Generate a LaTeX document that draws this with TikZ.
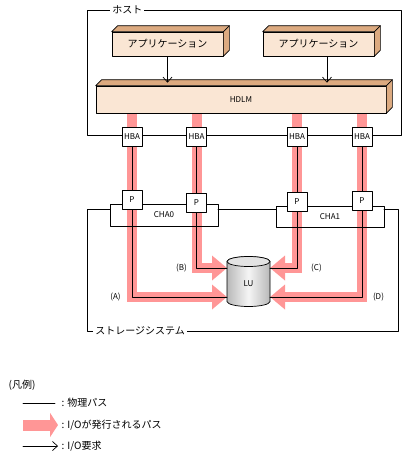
\documentclass[tikz,border=0pt]{standalone}
\usepackage{fontspec}
\setmainfont{Noto Sans CJK JP}
\usetikzlibrary{arrows.meta,backgrounds}
\definecolor{iopink}{RGB}{255,150,150}
\definecolor{boxface}{RGB}{250,230,212}
\definecolor{boxside}{RGB}{220,170,128}
\begin{document}
\begin{tikzpicture}[x=1pt,y=1pt,line cap=round,line join=round,>={Straight Barb[length=5pt,width=9pt]},line width=0.7pt,
	every node/.style={font=\fontsize{10}{12}\selectfont},
	small/.style={font=\fontsize{8}{10}\selectfont},
	box3d/.style={draw,fill=boxface,inner sep=0pt},
	port/.style={draw,fill=white,inner sep=0pt,minimum width=20pt,minimum height=19pt,small},
	cha/.style={draw,inner sep=0pt,minimum width=108pt,minimum height=22pt,small},
	frametitle/.style={fill=white,inner sep=2pt,anchor=west},
	iopath/.style={draw=iopink,line width=10pt,line cap=butt,line join=miter,-{Triangle[length=15pt,width=24pt]}}]
\useasboundingbox (0,0) rectangle (404,-456);
% host
\draw (87,-10) rectangle (401,-135);
\node[frametitle] (host) at (110,-10) {ホスト};
\node[box3d,minimum width=111pt,minimum height=24pt] (app1) at (167.5,-44) {アプリケーション};
\node[box3d,minimum width=111pt,minimum height=24pt] (app2) at (318.5,-44) {アプリケーション};
\node[box3d,minimum width=290pt,minimum height=27pt,small] (hdlm) at (241,-99.5) {HDLM};
\foreach \b in {app1,app2,hdlm}{
	\filldraw[fill=boxside] (\b.north west) -- ++(6,6) -- ([shift={(6,6)}]\b.north east) -- ([shift={(6,6)}]\b.south east) -- (\b.south east) -- (\b.north east) -- cycle;
	\draw (\b.north east) -- ++(6,6);
}
\coordinate (hdlmtop) at ([yshift=3pt]hdlm.north);
\coordinate (req2) at ([xshift=8.5pt]app2.south);
\draw[->] (app1) -- (app1 |- hdlmtop);
\draw[->] (req2) -- (req2 |- hdlmtop);
\foreach \n/\x in {A/132,B/196.5,C/297,D/362}
	\node[port] (hba\n) at (\x,-136.5) {HBA};
% storage
\draw (110,-209) -- (87,-209) -- (87,-331) -- (398,-331) -- (398,-209) -- (384,-209);
\draw (218,-209) -- (276,-209);
\node[frametitle] (storage) at (93,-331) {ストレージシステム};
\node[cha] (cha0) at (164,-215) {CHA0};
\node[cha,minimum height=21pt] (cha1) at (330,-216.5) {CHA1};
\foreach \n/\x/\y in {A/132/200,B/196.5/203,C/297/202,D/362/201}
	\node[port] (p\n) at (\x,-\y) {P};
% LU
\shadedraw[left color=gray!55,right color=gray!55,middle color=gray!8] (227,-261.5) -- (227,-301.5) arc (180:360:21.5 and 5) -- (270,-261.5) arc (0:180:21.5 and 5) -- cycle;
\filldraw[fill=gray!22] (248.5,-261.5) ellipse (21.5 and 5);
\node[small,minimum width=43pt,minimum height=40pt] (lu) at (248.5,-284) {LU};
\coordinate (inA) at (227,-297);
\coordinate (inB) at (227,-268);
\coordinate (inC) at (270,-268);
\coordinate (inD) at (270,-297);
\begin{scope}[on background layer]
\foreach \n in {A,B,C,D}
	\draw[iopath] (hdlm.south -| hba\n) -- (p\n.center) |- (in\n);
\end{scope}
\foreach \n in {A,B,C,D}
	\draw (hba\n) -- (p\n) |- (in\n);
\node[small] (labA) at (115.5,-297) {(A)};
\node[small] (labB) at (181.5,-268) {(B)};
\node[small] (labC) at (316.5,-268) {(C)};
\node[small] (labD) at (378.5,-297) {(D)};
% legend
\node[anchor=west] (legend) at (5,-385) {(凡例)};
\coordinate (lg1) at (23,-403);
\coordinate (lg2) at (23,-425);
\coordinate (lg3) at (23,-446);
\node[anchor=west] (lgphys) at (58,-403) {: 物理パス};
\node[anchor=west] (lgio) at (58,-425) {: I/Oが発行されるパス};
\node[anchor=west] (lgreq) at (58,-446) {: I/O要求};
\draw (lg1) -- ([xshift=-3pt]lgphys.west);
\draw[iopath,line width=11pt,-{Triangle[length=8pt,width=24pt]}] (lg2) -- (lgio.west);
\draw[->] (lg3) -- (lgreq.west);
\end{tikzpicture}
\end{document}
